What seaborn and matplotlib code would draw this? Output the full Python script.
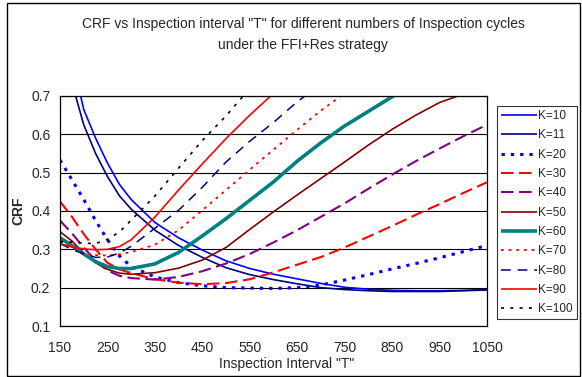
import numpy as np
import pandas as pd
import matplotlib
matplotlib.use("Agg")
import matplotlib.pyplot as plt
from matplotlib.patches import Rectangle
import seaborn as sns

# Inspection interval grid (x values)
T = [150, 175, 200, 225, 250, 275, 300, 350, 400, 450, 500, 550,
     600, 650, 700, 750, 800, 850, 900, 950, 1000, 1050]
nan = np.nan

# CRF values (nan = off the top of the plot)
k10 = [nan, 0.80, 0.665, 0.59, 0.525, 0.47, 0.43, 0.37, 0.33, 0.298, 0.27, 0.25,
       0.235, 0.223, 0.211, 0.201, 0.196, 0.193, 0.192, 0.192, 0.193, 0.195]
k11 = [nan, 0.735, 0.625, 0.55, 0.49, 0.44, 0.405, 0.35, 0.31, 0.279, 0.252, 0.234,
       0.221, 0.21, 0.2, 0.195, 0.192, 0.19, 0.19, 0.19, 0.192, 0.194]
k20 = [0.533, 0.482, 0.43, 0.375, 0.325, 0.283, 0.255, 0.228, 0.213, 0.205, 0.2, 0.199,
       0.198, 0.2, 0.207, 0.22, 0.234, 0.249, 0.263, 0.278, 0.294, 0.31]
k30 = [0.425, 0.385, 0.34, 0.3, 0.265, 0.248, 0.238, 0.222, 0.213, 0.209, 0.212, 0.222,
       0.24, 0.26, 0.28, 0.305, 0.333, 0.361, 0.39, 0.418, 0.447, 0.475]
k40 = [0.375, 0.342, 0.305, 0.27, 0.245, 0.231, 0.225, 0.221, 0.228, 0.243, 0.263, 0.288,
       0.318, 0.35, 0.385, 0.42, 0.458, 0.495, 0.53, 0.563, 0.595, 0.625]
k50 = [0.346, 0.322, 0.29, 0.265, 0.248, 0.238, 0.235, 0.239, 0.251, 0.272, 0.305, 0.352,
       0.398, 0.442, 0.485, 0.528, 0.572, 0.613, 0.65, 0.683, 0.705, nan]
k60 = [0.33, 0.31, 0.288, 0.268, 0.255, 0.25, 0.25, 0.262, 0.292, 0.335, 0.38, 0.428,
       0.476, 0.53, 0.578, 0.622, 0.66, 0.698, 0.735, nan, nan, nan]
k70 = [0.322, 0.305, 0.292, 0.285, 0.284, 0.287, 0.293, 0.312, 0.35, 0.402, 0.455, 0.508,
       0.56, 0.612, 0.662, 0.707, nan, nan, nan, nan, nan, nan]
k80 = [0.315, 0.3, 0.288, 0.279, 0.28, 0.29, 0.308, 0.355, 0.402, 0.462, 0.528, 0.582,
       0.631, 0.685, 0.73, nan, nan, nan, nan, nan, nan, nan]
k90 = [0.315, 0.306, 0.301, 0.299, 0.3, 0.307, 0.325, 0.384, 0.455, 0.523, 0.589, 0.65,
       0.707, nan, nan, nan, nan, nan, nan, nan, nan, nan]
k100 = [0.32, 0.319, 0.316, 0.315, 0.326, 0.345, 0.376, 0.439, 0.512, 0.584, 0.648, 0.72,
        nan, nan, nan, nan, nan, nan, nan, nan, nan, nan]

labels = ["K=10", "K=11", "K=20", "K=30", "K=40", "K=50",
          "K=60", "K=70", "K=80", "K=90", "K=100"]
series = [k10, k11, k20, k30, k40, k50, k60, k70, k80, k90, k100]

# line styles: (color, width, dash pattern in points or None for solid)
styles = [
    ("#0000FF", 1.2, None),
    ("#000080", 1.2, None),
    ("#0000FF", 2.2, (2.4, 4.3)),
    ("#FF0000", 1.5, (9, 4)),
    ("#800080", 1.5, (9, 4)),
    ("#800000", 1.2, None),
    ("#008080", 2.6, None),
    ("#FF0000", 1.3, (2, 3.5)),
    ("#000080", 1.1, (7, 5)),
    ("#FF0000", 1.2, None),
    ("#000000", 1.2, (2.2, 4.5)),
]

sns.set_style("white")
plt.rcParams["font.family"] = ["Liberation Sans", "DejaVu Sans"]
plt.rcParams["lines.scale_dashes"] = False

W, H = 582, 377
fig = plt.figure(figsize=(W / 100, H / 100), dpi=100)
ax = fig.add_axes([60 / W, 1 - 326 / H, 427 / W, 230 / H])

for lab, vals, (col, lw, dash) in zip(labels, series, styles):
    df = pd.DataFrame({"T": T, "CRF": vals}).dropna()
    ls = "-" if dash is None else (0, dash)
    sns.lineplot(data=df, x="T", y="CRF", ax=ax, color=col, linewidth=lw,
                 linestyle=ls, label=lab, solid_capstyle="butt",
                 dash_capstyle="butt")

ax.set_xlim(150, 1050)
ax.set_ylim(0.1, 0.7)
ax.set_xticks(range(150, 1051, 100))
ax.set_yticks(np.arange(0.1, 0.71, 0.1))
ax.set_yticklabels([f"{v:.1f}" for v in np.arange(0.1, 0.71, 0.1)])

# horizontal gridlines only
ax.grid(False)
ax.yaxis.grid(True, color="black", linewidth=0.8)
ax.set_axisbelow(True)
for sp in ax.spines.values():
    sp.set_color("black")
    sp.set_linewidth(0.9)

ax.tick_params(axis="both", direction="out", length=3, width=0.8,
               color="black", labelsize=10)
ax.tick_params(axis="x", pad=7.5)
ax.tick_params(axis="y", pad=4)

ax.set_xlabel('Inspection Interval "T"', fontsize=10)
ax.set_ylabel("CRF", fontsize=10, fontweight="bold")
ax.xaxis.set_label_coords(0.53, -0.135)
ax.yaxis.set_label_coords(-0.08, 0.5)

fig.text(303 / W, 1 - 24 / H,
         'CRF vs Inspection interval "T" for different numbers of Inspection cycles',
         ha="center", va="center", fontsize=10)
fig.text(303 / W, 1 - 45 / H, "under the FFI+Res strategy",
         ha="center", va="center", fontsize=10)

leg = ax.legend(loc="upper left", bbox_to_anchor=(497 / W, 1 - 106 / H),
                bbox_transform=fig.transFigure, borderaxespad=0,
                fontsize=8.5, frameon=True, fancybox=False, handlelength=3.0,
                handletextpad=0.15, labelspacing=0.62, borderpad=0.35)
leg.get_frame().set_edgecolor("black")
leg.get_frame().set_linewidth(0.8)

# outer chart border
fig.patches.append(Rectangle((7 / W, 1.5 / H), 573 / W, 373 / H,
                             transform=fig.transFigure, fill=False,
                             edgecolor="black", linewidth=1))

fig.savefig("out.png", dpi=100)
